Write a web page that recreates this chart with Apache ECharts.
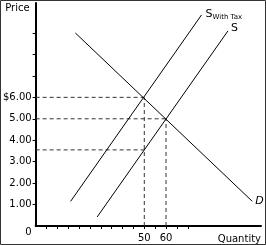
<!DOCTYPE html>
<html>
<head>
<meta charset="utf-8">
<script src="https://cdn.jsdelivr.net/npm/echarts@6/dist/echarts.min.js"></script>
<style>
  html, body { margin: 0; padding: 0; background: #fff; }
  #main { width: 266px; height: 245px; }
</style>
</head>
<body>
<div id="main"></div>
<script>
// curves (quantity, price) end points
var demandQ = [18.3, 99.7];
var demandP = [9.0, 1.15];
var supplyQ = [28.3, 88.5];
var supplyP = [0.42, 9.1];
var taxQ = [16.1, 76.3];
var taxP = [1.15, 9.84];

// equilibrium values
var qTax = 50, pBuyer = 6, pSeller = 3.55;
var qEq = 60, pEq = 5;

var yTicks = [1, 2, 3, 4, 5, 6, 7, 8, 9];
var yLabels = [0, 1, 2, 3, 4, 5, 6];
var xTicks = [5, 10, 15, 20, 25, 30, 35, 40, 45, 50, 55, 60, 65, 70];
var xLabels = [50, 60];

var font = 'DejaVu Sans';
var chart = echarts.init(document.getElementById('main'));

function pairs(qs, ps) {
    return qs.map(function (q, i) { return [q, ps[i]]; });
}

function curve(name, qs, ps, text, rich, offset, italic) {
    return {
        name: name,
        type: 'line',
        data: pairs(qs, ps),
        symbol: 'none',
        lineStyle: { color: '#000', width: 1 },
        endLabel: {
            show: true,
            distance: 3,
            offset: offset,
            formatter: text,
            color: '#000',
            fontFamily: font,
            fontSize: 11,
            fontStyle: italic ? 'italic' : 'normal',
            rich: rich
        },
        z: 3
    };
}

function dashed(data) {
    return {
        type: 'line',
        data: data,
        symbol: 'none',
        lineStyle: { color: '#333', width: 1, type: [4, 3] },
        z: 2
    };
}

var option = {
    animation: false,
    grid: { left: 35, right: 5, top: 3, bottom: 19 },
    xAxis: {
        type: 'value',
        min: 0,
        max: 103.7,
        name: 'Quantity',
        nameLocation: 'end',
        nameGap: 0,
        nameTextStyle: {
            align: 'right', verticalAlign: 'top', padding: [8, 0, 0, 0],
            color: '#000', fontFamily: font, fontSize: 10
        },
        splitLine: { show: false },
        axisLine: { lineStyle: { color: '#000', width: 2 } },
        axisTick: { customValues: xTicks, length: 3, lineStyle: { color: '#000' } },
        axisLabel: {
            customValues: xLabels,
            margin: 7,
            color: '#000',
            fontFamily: font,
            fontSize: 10
        }
    },
    yAxis: {
        type: 'value',
        min: 0,
        max: 10.4,
        name: 'Price',
        nameLocation: 'end',
        nameGap: 0,
        nameTextStyle: {
            align: 'right', verticalAlign: 'top', padding: [0, 6, 0, 0],
            color: '#000', fontFamily: font, fontSize: 10
        },
        splitLine: { show: false },
        axisLine: { lineStyle: { color: '#000', width: 2 } },
        axisTick: { customValues: yTicks, length: 3, lineStyle: { color: '#000' } },
        axisLabel: {
            customValues: yLabels,
            margin: 4,
            color: '#000',
            fontFamily: font,
            fontSize: 10,
            formatter: function (v) {
                if (v === 0) return '{z|0}';
                return v === pBuyer ? '$' + v.toFixed(2) : v.toFixed(2);
            },
            rich: { z: { padding: [12, 0, 0, 0], fontFamily: font, fontSize: 10, color: '#000' } }
        }
    },
    series: [
        dashed([[0, pBuyer], [qTax, pBuyer]]),
        dashed([[0, pEq], [qEq, pEq]]),
        dashed([[0, pSeller], [qTax, pSeller]]),
        dashed([[qTax, 0], [qTax, pBuyer]]),
        dashed([[qEq, 0], [qEq, pEq]]),
        curve('D', demandQ, demandP, 'D', null, [0, 0], true),
        curve('S', supplyQ, supplyP, 'S', null, [0, -3], false),
        curve('S with tax', taxQ, taxP, '{s|S}{sub|With Tax}', {
            s: { fontFamily: font, fontSize: 11, color: '#000' },
            sub: { fontFamily: font, fontSize: 7, color: '#000', padding: [6, 0, 0, 0] }
        }, [1, -1], false)
    ],
    graphic: [{
        type: 'rect',
        shape: { x: 0.5, y: 0.5, width: 265, height: 244 },
        style: { fill: null, stroke: '#333', lineWidth: 1 },
        silent: true
    }]
};

chart.setOption(option);
</script>
</body>
</html>
